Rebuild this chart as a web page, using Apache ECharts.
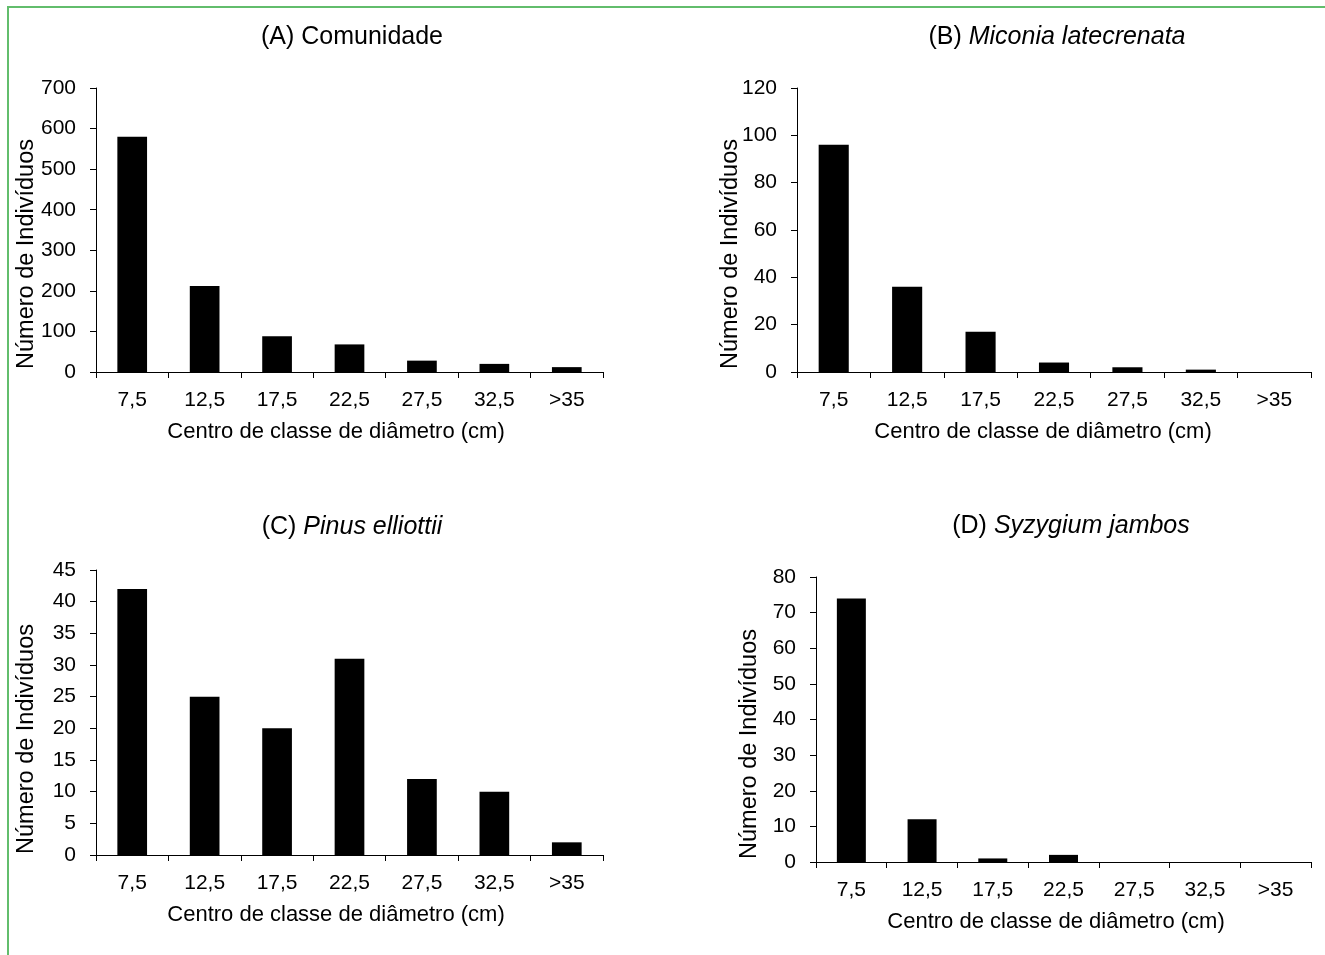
<!DOCTYPE html>
<html>
<head>
<meta charset="utf-8">
<script src="https://cdn.jsdelivr.net/npm/echarts@6/dist/echarts.min.js"></script>
<style>
html,body{margin:0;padding:0;background:#fff;}
#c{width:1325px;height:955px;}
</style>
</head>
<body>
<div id="c"></div>
<script>
const categories = ['7,5', '12,5', '17,5', '22,5', '27,5', '32,5', '>35'];
const valuesA = [580, 212, 88, 68, 28, 20, 12];
const valuesB = [96, 36, 17, 4, 2, 1, 0];
const valuesC = [42, 25, 20, 31, 12, 10, 2];
const valuesD = [74, 12, 1, 2, 0, 0, 0];
const yMaxes = [700, 120, 45, 80];
const yIntervals = [100, 20, 5, 10];
const panelTitles = [
  ['(A) ', 'Comunidade', false],
  ['(B) ', 'Miconia latecrenata', true],
  ['(C) ', 'Pinus elliottii', true],
  ['(D) ', 'Syzygium jambos', true]
];
const xAxisTitle = 'Centro de classe de diâmetro (cm)';
const yAxisTitle = 'Número de Indivíduos';

const FONT = 'Liberation Sans, Arial, sans-serif';
const grids = [
  {left: 96, top: 88, width: 507, height: 284},
  {left: 797, top: 88, width: 514, height: 284},
  {left: 96, top: 570, width: 507, height: 285},
  {left: 816, top: 577, width: 495, height: 285}
];
const titlePos = [[352, 37], [1057, 37], [352, 527], [1071, 526]];
const yTitlePos = [[27, 254], [731, 254], [27, 739], [750, 744]];
const xTitlePos = [[336, 432], [1043, 432], [336, 915], [1056, 922]];
const seriesData = [valuesA, valuesB, valuesC, valuesD];

function txt(x, y, text, size, rot, rich) {
  const el = {
    type: 'text', x: x, y: y, silent: true, z: 50,
    style: {
      text: text, align: 'center', verticalAlign: 'middle',
      fontFamily: FONT, fontSize: size, fill: '#000'
    }
  };
  if (rot) el.rotation = rot;
  if (rich) el.style.rich = rich;
  return el;
}

const graphics = [
  {
    type: 'rect', silent: true, z: 100,
    shape: {x: 8, y: 7, width: 1400, height: 1100},
    style: {fill: 'none', stroke: '#62bd6c', lineWidth: 2}
  }
];
panelTitles.forEach((t, i) => {
  graphics.push(txt(titlePos[i][0], titlePos[i][1],
    '{n|' + t[0] + '}' + (t[2] ? '{i|' + t[1] + '}' : '{n|' + t[1] + '}'), 25, 0, {
      n: {fontFamily: FONT, fontSize: 25, fill: '#000', fontStyle: 'normal'},
      i: {fontFamily: FONT, fontSize: 25, fill: '#000', fontStyle: 'italic'}
    }));
  graphics.push(txt(yTitlePos[i][0], yTitlePos[i][1], yAxisTitle, 23.5, Math.PI / 2));
  graphics.push(txt(xTitlePos[i][0], xTitlePos[i][1], xAxisTitle, 22, 0));
});

const option = {
  backgroundColor: '#fff',
  animation: false,
  grid: grids.map(g => Object.assign({containLabel: false}, g)),
  xAxis: grids.map((g, i) => ({
    type: 'category', gridIndex: i, data: categories, boundaryGap: true,
    axisLine: {show: true, lineStyle: {color: '#000', width: 1}},
    axisTick: {show: true, interval: 0, length: 6, lineStyle: {color: '#000'}},
    axisLabel: {interval: 0, color: '#000', fontFamily: FONT, fontSize: 21, margin: 18},
    splitLine: {show: false}
  })),
  yAxis: grids.map((g, i) => ({
    type: 'value', gridIndex: i, min: 0, max: yMaxes[i], interval: yIntervals[i],
    axisLine: {show: true, lineStyle: {color: '#000', width: 1}},
    axisTick: {show: true, length: 6, lineStyle: {color: '#000'}},
    axisLabel: {color: '#000', fontFamily: FONT, fontSize: 21, margin: 20},
    splitLine: {show: false}
  })),
  series: seriesData.map((d, i) => ({
    type: 'bar', xAxisIndex: i, yAxisIndex: i, data: d,
    barCategoryGap: '59%',
    itemStyle: {color: '#000'}
  })),
  graphic: graphics
};

const chart = echarts.init(document.getElementById('c'), null, {renderer: 'canvas'});
chart.setOption(option);
</script>
</body>
</html>
